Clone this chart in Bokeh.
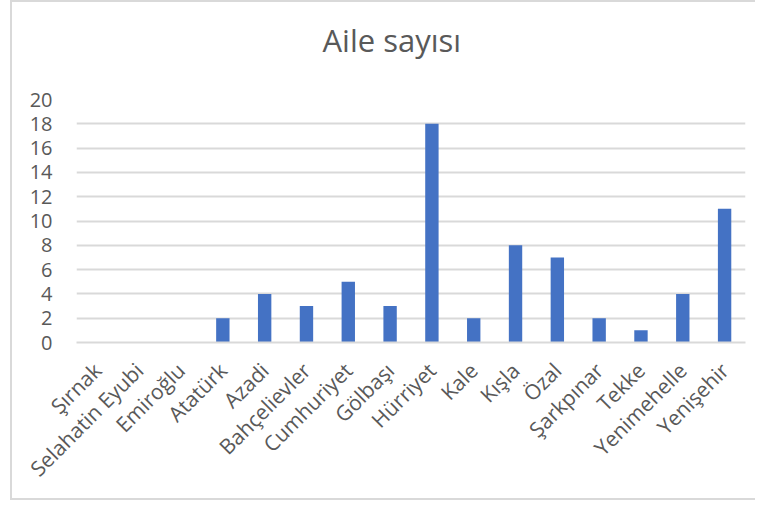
import math
from bokeh.plotting import figure
from bokeh.models import FixedTicker, Range1d, Title
from bokeh.embed import file_html
from bokeh.resources import INLINE

categories = ["Şırnak", "Selahatin Eyubi", "Emiroğlu", "Atatürk", "Azadi",
              "Bahçelievler", "Cumhuriyet", "Gölbaşı", "Hürriyet", "Kale",
              "Kışla", "Özal", "Şarkpınar", "Tekke", "Yenimehelle", "Yenişehir"]
values = [0, 0, 0, 2, 4, 3, 5, 3, 18, 2, 8, 7, 2, 1, 4, 11]
y_ticks = [0, 2, 4, 6, 8, 10, 12, 14, 16, 18, 20]
title_text = "Aile sayısı"

p = figure(x_range=categories, y_range=Range1d(0, 20),
           width=745, height=500, output_backend="svg", toolbar_location=None,
           min_border_left=64, min_border_right=12, min_border_top=97,
           min_border_bottom=160)
p.title.visible = False

p.vbar(x=categories, top=values, width=0.32, color="#4472C4", line_color=None)

# spacer between frame and title (closest to frame)
spacer = Title(text=" ", text_font_size="1px", standoff=34)
p.add_layout(spacer, "above")
main_title = Title(text=title_text, align="left", offset=246, vertical_align="top",
                   text_font="Open Sans", text_font_size="31px", text_font_style="normal",
                   text_color="#595959", standoff=0)
p.add_layout(main_title, "above")

p.outline_line_color = None
p.xgrid.grid_line_color = None
p.ygrid.grid_line_color = "#d9d9d9"
p.ygrid.grid_line_width = 2

p.yaxis.ticker = FixedTicker(ticks=y_ticks)
p.yaxis.axis_line_color = None
p.yaxis.major_tick_line_color = None
p.yaxis.minor_tick_line_color = None
p.yaxis.major_label_standoff = 18
p.yaxis.major_label_text_font = "Open Sans"
p.yaxis.major_label_text_font_size = "20px"
p.yaxis.major_label_text_color = "#595959"

p.xaxis.axis_line_color = "#d9d9d9"
p.xaxis.axis_line_width = 2
p.xaxis.major_tick_line_color = None
p.xaxis.minor_tick_line_color = None
p.xaxis.major_label_orientation = math.pi / 4
p.xaxis.major_label_standoff = 18
p.xaxis.major_label_text_font = "Open Sans"
p.xaxis.major_label_text_font_size = "21px"
p.xaxis.major_label_text_color = "#595959"

p.styles = {"margin-left": "10px",
            "border-left": "2px solid #d9d9d9", "border-bottom": "2px solid #d9d9d9",
            "border-top": "2px solid #d9d9d9"}

open("out.html", "w").write(file_html(p, INLINE))
